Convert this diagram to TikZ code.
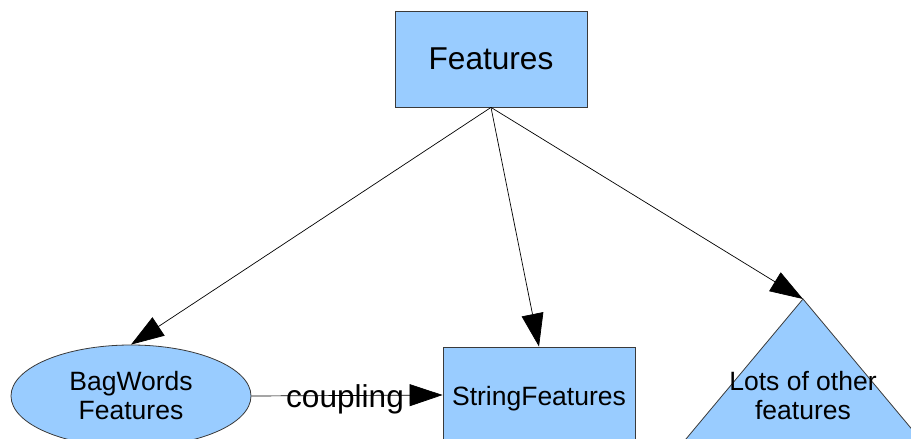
\documentclass[tikz,border=0pt]{standalone}
\usepackage{fontspec}
\setmainfont{Liberation Sans}
\usetikzlibrary{arrows.meta,shapes.geometric}
\definecolor{shapefill}{HTML}{99CCFF}
\definecolor{shapeline}{HTML}{3A3A3A}
\begin{document}
\begin{tikzpicture}[x=1pt,y=-1pt,
  box/.style={draw=shapeline, fill=shapefill, line width=0.8pt, inner sep=0pt,
              minimum width=192pt, minimum height=96pt},
  oval/.style={ellipse, draw=shapeline, fill=shapefill, line width=0.8pt, inner sep=0pt,
               minimum width=240pt, minimum height=102pt},
  bigtext/.style={font=\fontsize{31.6}{36}\selectfont},
  smalltext/.style={font=\fontsize{26.5}{29}\selectfont, align=center},
  link/.style={line width=0.7pt, -{Triangle[length=33pt,width=22pt]}}]
\useasboundingbox (0,0) rectangle (911,439);
\clip (0,0) rectangle (911,439);

% shapes
\node[box, bigtext] (features) at (491,59) {Features};
\node[oval, smalltext] (bagwords) at (131,396) {BagWords\\Features};
\node[box] (strings) at (539,395) {};
\node[smalltext, yshift=-4pt] (stringslabel) at (strings.center) {StringFeatures};

% triangle running off the bottom edge
\coordinate (apex) at (803,299);
\filldraw[fill=shapefill, draw=shapeline, line width=0.8pt]
  (651.7,480) -- (apex) -- (954.3,480) -- cycle;
\node[smalltext] (others) at (803,396) {Lots of other\\features};

% connectors
\draw[link] (features.south) -- (bagwords.north);
\draw[link] (features.south) -- (strings.north);
\draw[link] (features.south) -- (apex);
\draw[link] (bagwords.east) -- node[bigtext, xshift=-2pt, yshift=-4pt] (couplinglabel) {coupling} (strings.west);
\end{tikzpicture}
\end{document}
